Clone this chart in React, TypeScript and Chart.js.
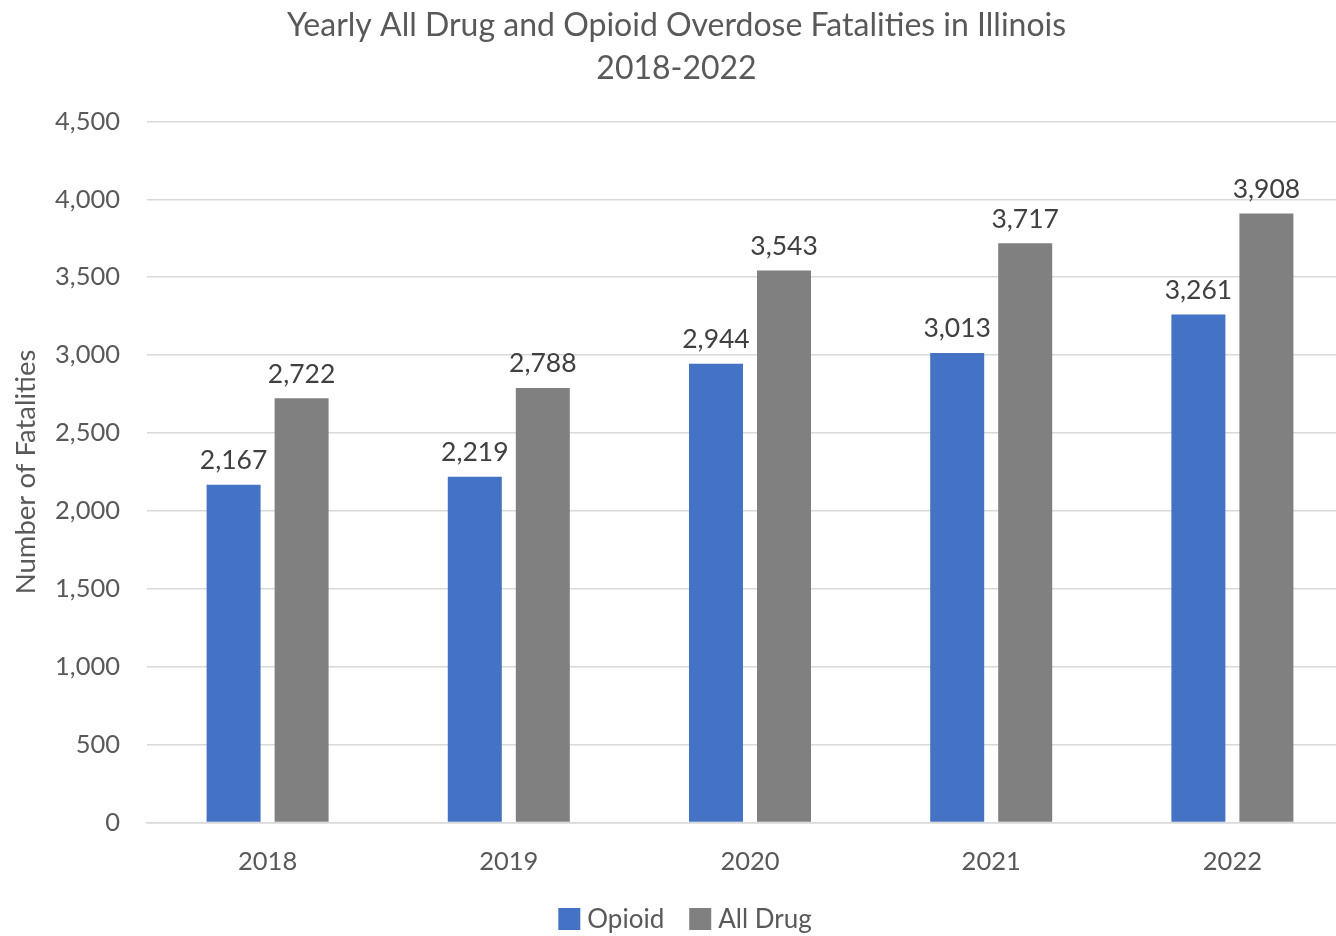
import React, { useEffect, useRef } from "react";
import { Chart, registerables } from "chart.js";

Chart.register(...registerables);

const years = ["2018", "2019", "2020", "2021", "2022"];
const opioid = [2167, 2219, 2944, 3013, 3261];
const allDrug = [2722, 2788, 3543, 3717, 3908];
const seriesNames = ["Opioid", "All Drug"];
const seriesColors = ["#4472C4", "#808080"];
const titleLines = ["Yearly All Drug and Opioid Overdose Fatalities in Illinois", "2018-2022"];
const yTitle = "Number of Fatalities";

const FONT = "Lato, 'Open Sans', sans-serif";
const TEXT = "#595959";

const labelPlugin = {
  id: "barLabels",
  afterDatasetsDraw(chart: any) {
    const ctx = chart.ctx;
    ctx.save();
    ctx.font = `26.5px ${FONT}`;
    ctx.fillStyle = "#404040";
    ctx.textAlign = "center";
    ctx.textBaseline = "bottom";
    chart.data.datasets.forEach((ds: any, di: number) => {
      const meta = chart.getDatasetMeta(di);
      meta.data.forEach((bar: any, i: number) => {
        const v = ds.data[i] as number;
        ctx.fillText(v.toLocaleString("en-US"), bar.x, bar.y - 11);
      });
    });
    ctx.restore();
  },
};

const legendPlugin = {
  id: "customLegend",
  afterDraw(chart: any) {
    const ctx = chart.ctx;
    ctx.save();
    ctx.font = `26px ${FONT}`;
    const box = 22;
    const gapText = 7;
    const gapItem = 25;
    const widths = chart.data.datasets.map((ds: any) => ctx.measureText(ds.label).width);
    const total =
      widths.reduce((a: number, w: number) => a + box + gapText + w, 0) + gapItem * (widths.length - 1);
    let x = 1336 / 2 + 17 - total / 2;
    const cy = chart.height - 17;
    ctx.textBaseline = "middle";
    ctx.textAlign = "left";
    chart.data.datasets.forEach((ds: any, i: number) => {
      ctx.fillStyle = ds.backgroundColor;
      ctx.fillRect(x, cy - box / 2, box, box);
      x += box + gapText;
      ctx.fillStyle = TEXT;
      ctx.fillText(ds.label, x, cy + 1);
      x += widths[i] + gapItem;
    });
    ctx.restore();
  },
};

export default function App() {
  const ref = useRef<HTMLCanvasElement>(null);
  useEffect(() => {
    document.body.style.margin = "0";
    document.body.style.overflow = "hidden";
    const chart = new Chart(ref.current!, {
      type: "bar",
      data: {
        labels: years,
        datasets: [
          { label: seriesNames[0], data: opioid, backgroundColor: seriesColors[0] },
          { label: seriesNames[1], data: allDrug, backgroundColor: seriesColors[1] },
        ],
      },
      options: {
        animation: false,
        responsive: false,
        maintainAspectRatio: false,
        layout: { padding: { top: 4, right: 0, bottom: 35, left: 0 } },
        datasets: {
          bar: { categoryPercentage: 0.564, barPercentage: 0.794 },
        } as any,
        plugins: {
          title: {
            display: true,
            text: titleLines,
            color: TEXT,
            font: { family: FONT, size: 32, weight: "normal", lineHeight: 1.35 },
            padding: { top: 0, bottom: 31 },
          },
          legend: { display: false },
          tooltip: { enabled: false },
        },
        scales: {
          x: {
            grid: { display: false, drawTicks: false },
            border: { color: "#d9d9d9", width: 1.5 },
            ticks: { color: TEXT, font: { family: FONT, size: 25.5 }, padding: 24 },
          },
          y: {
            min: 0,
            max: 4500,
            grid: { color: "#d9d9d9", lineWidth: 1.5, drawTicks: false },
            border: { display: false },
            ticks: {
              stepSize: 500,
              color: TEXT,
              font: { family: FONT, size: 25.5 },
              padding: 27,
              callback: (v: any) => Number(v).toLocaleString("en-US"),
            },
            title: {
              display: true,
              text: yTitle,
              color: TEXT,
              font: { family: FONT, size: 27.5 },
              padding: { top: 10, bottom: 0 },
            },
            afterFit: (scale: any) => {
              scale.width = 147;
            },
          },
        },
      },
      plugins: [labelPlugin, legendPlugin],
    });
    return () => chart.destroy();
  }, []);
  return (
    <div style={{ position: "absolute", left: 0, top: 0, width: 1353, height: 936 }}>
      <canvas ref={ref} width={1353} height={936} style={{ width: 1353, height: 936 }} />
    </div>
  );
}
